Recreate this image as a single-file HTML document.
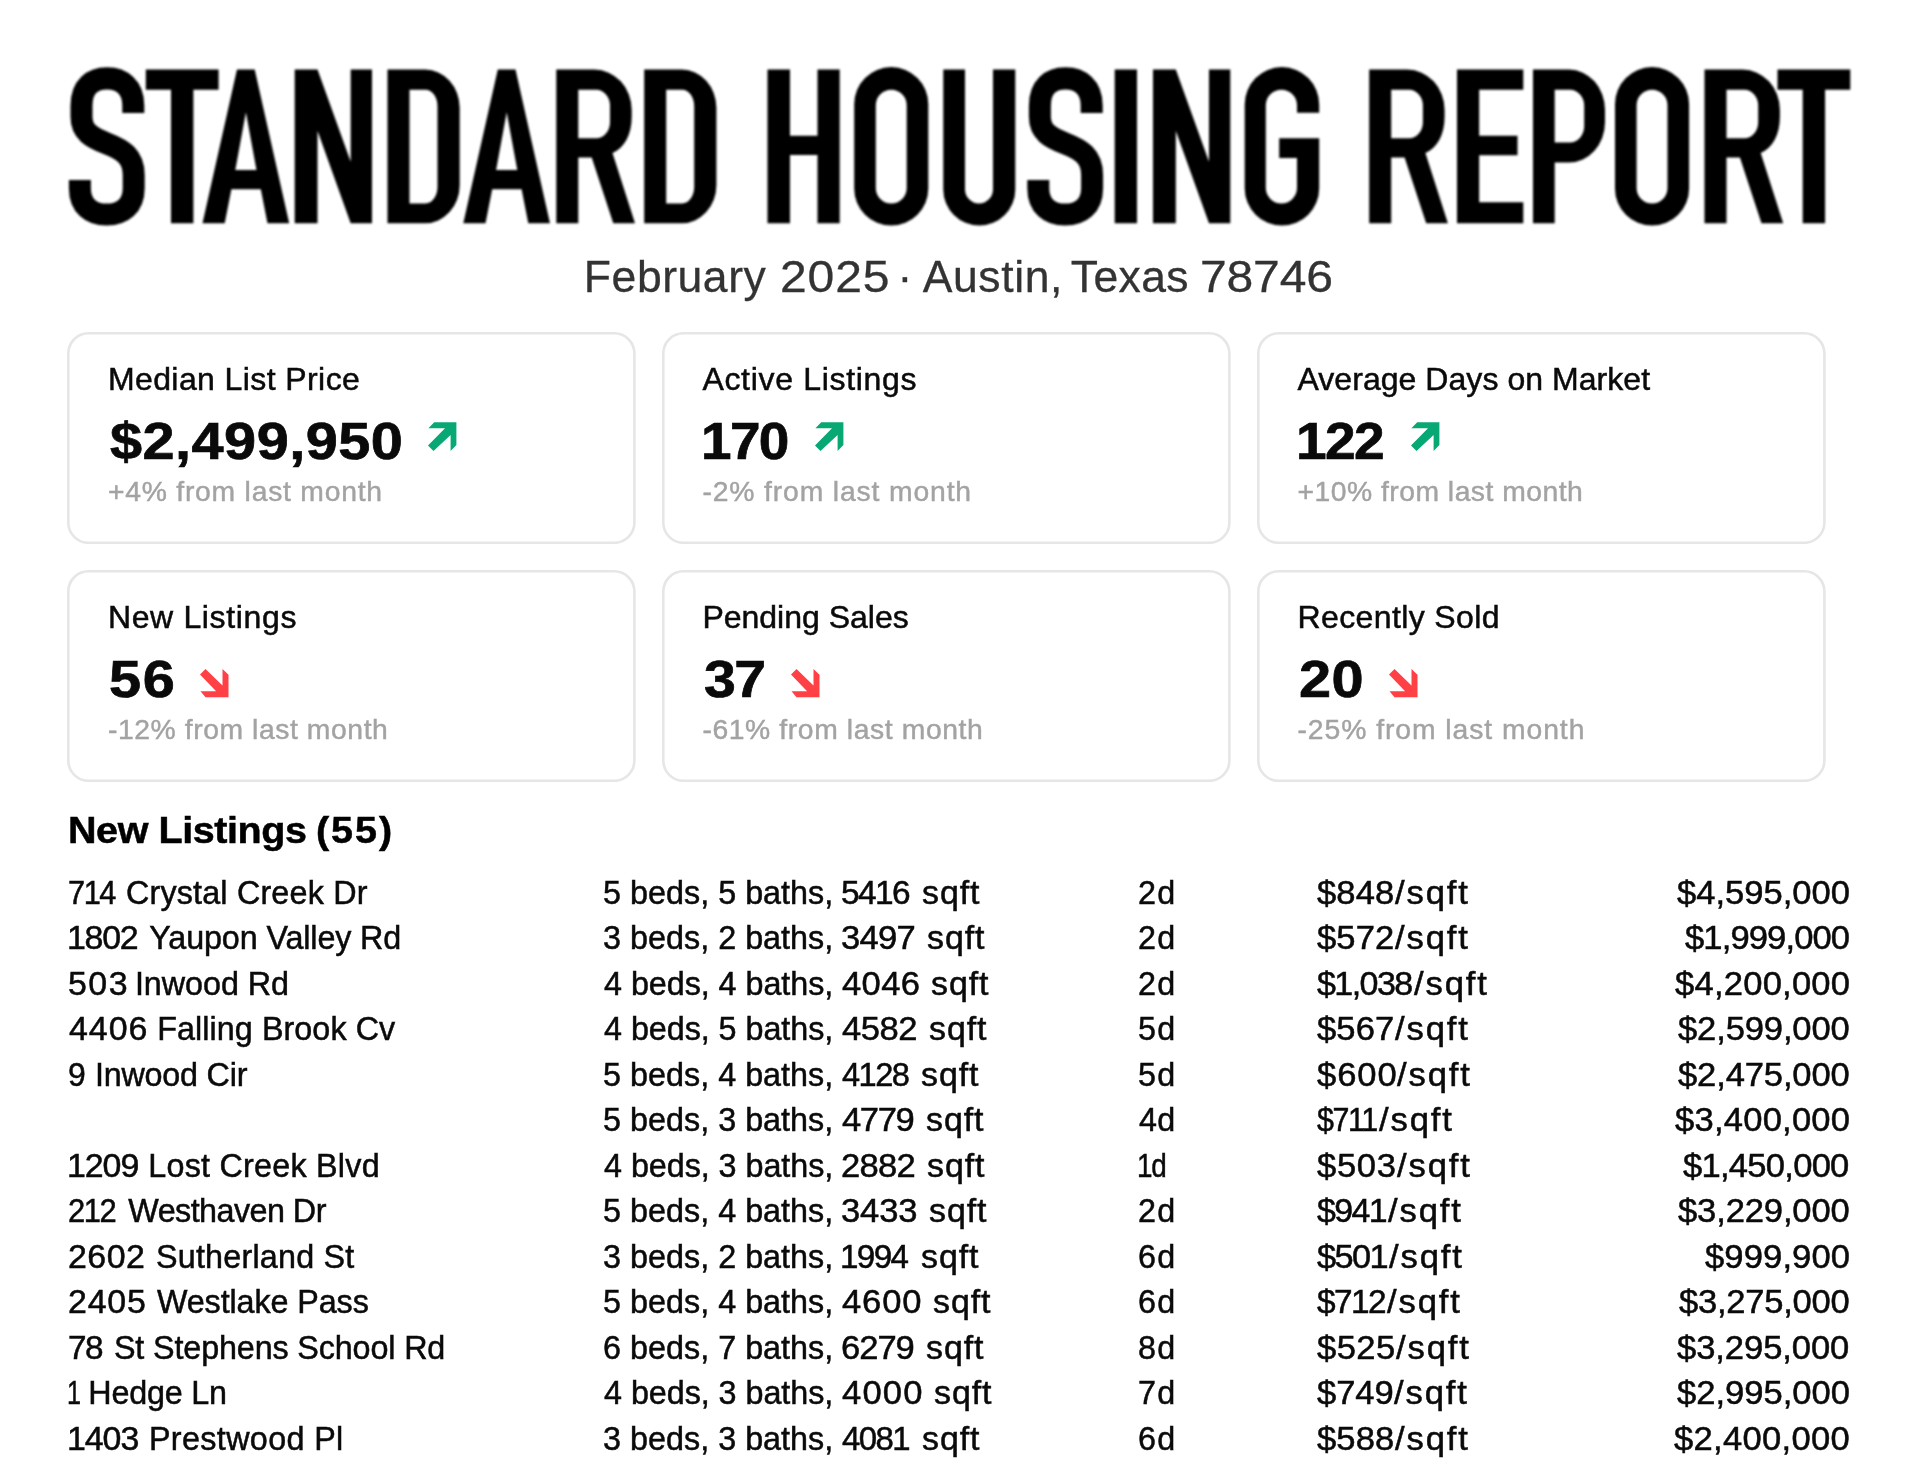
<!DOCTYPE html>
<html lang="en"><head><meta charset="utf-8"><title>Standard Housing Report</title>
<style>
html,body{margin:0;padding:0;background:#fff;}
body{width:1920px;height:1465px;position:relative;overflow:hidden;font-family:"Liberation Sans",sans-serif;color:#0a0a0a;}
#page{position:absolute;left:0;top:0;width:1920px;height:1465px;will-change:transform;}
.t{position:absolute;white-space:pre;margin:0;transform-origin:0 0;}
.title{position:absolute;left:0;top:0;}
.ar{position:absolute;}
</style></head><body><div id="page">

<svg class="title" width="1920" height="240" viewBox="0 0 1920 240" aria-label="STANDARD HOUSING REPORT" role="img"><title>STANDARD HOUSING REPORT</title><defs>
<g id="gT"><path d="M0,0H72.8V20H47.6V153H25.2V20H0Z"/></g>
<g id="gA"><path fill-rule="evenodd" d="M0,153L34.5,0H52.2L86.7,153H65L58.3,119.2H28.9L22.2,153Z M43.4,42.5L54,100H32.8Z"/></g>
<g id="gN"><path d="M0,0H22.8L56,91.7V0H77.3V153H56L22.8,60.8V153H0Z"/></g>
<g id="gD"><path fill-rule="evenodd" d="M0,0H37.5A34.7,38 0 0 1 72.2,38V115A34.7,38 0 0 1 37.5,153H0Z M22,20H38A12,16.7 0 0 1 50,36.7V116.6A12,16.7 0 0 1 38,133.3H22Z"/></g>
<g id="gR"><path fill-rule="evenodd" d="M0,0H38A37.4,40 0 0 1 75.4,40V47C75.4,65 68,78 56.2,83L78.7,153H57L35.4,87.5H22V153H0Z M22,20H40A13.7,16 0 0 1 53.7,36V52.3A13.7,16 0 0 1 40,68.3H22Z"/></g>
<g id="gH"><path d="M0,0H22.5V65.8H50V0H72.2V153H50V85H22.5V153H0Z"/></g>
<g id="gO"><path fill-rule="evenodd" d="M0,34.55A37.05,37.05 0 0 1 74.1,34.55V118.25A37.05,37.05 0 0 1 0,118.25Z M21.6,35.45A15.45,15.45 0 0 1 52.5,35.45V117.85A15.45,15.45 0 0 1 21.6,117.85Z"/></g>
<g id="gU"><path d="M0,0H21.7V119A14,14.3 0 0 0 49.7,119V0H72V119.3A36,36 0 0 1 0,119.3Z"/></g>
<g id="gS"><path fill="none" stroke="#000" stroke-width="22" d="M65,43.3V36C65,17 53,8.75 38.8,8.75C24,8.75 13.2,17 13.2,36V47C13.2,62 23,67.5 38.5,73.5C54,79.5 65.4,86 65.4,105V118C65.4,136 54,144.3 38.3,144.3C23,144.3 11.6,136 11.6,118V110"/></g>
<g id="gG"><path d="M74.5,43V34.75A37.25,37.25 0 0 0 0,34.75V118.05A37.25,37.25 0 0 0 74.5,118.05V68.3H34.5V88H52.3V117.7A15.6,15.6 0 0 1 21.1,117.7V35.6A15.6,15.6 0 0 1 52.3,35.6V43Z"/></g>
<g id="gE"><path d="M0,0H66.3V20H22.2V65.8H60.5V85.3H22.2V132H66.3V153H0Z"/></g>
<g id="gP"><path fill-rule="evenodd" d="M0,0H36A36,40 0 0 1 72,40V52.5A36,40 0 0 1 36,92.5H21.7V153H0Z M21.7,20H37A14.2,16 0 0 1 51.2,36V56.5A14.2,16 0 0 1 37,72.5H21.7Z"/></g>
<g id="gI"><path d="M0,0H22.3V153H0Z"/></g>
<filter id="tb" x="-1%" y="-5%" width="102%" height="110%"><feGaussianBlur stdDeviation="0.8"/></filter></defs><g fill="#000" filter="url(#tb)">
<use href="#gS" transform="translate(68.3,69.6) scale(1,1.0046)"/>
<use href="#gT" transform="translate(145.8,69.6) scale(1,1.0046)"/>
<use href="#gA" transform="translate(202.5,69.6) scale(1,1.0046)"/>
<use href="#gN" transform="translate(294.7,69.6) scale(1,1.0046)"/>
<use href="#gD" transform="translate(387.5,69.6) scale(1,1.0046)"/>
<use href="#gA" transform="translate(463.3,69.6) scale(1,1.0046)"/>
<use href="#gR" transform="translate(556.3,69.6) scale(1,1.0046)"/>
<use href="#gD" transform="translate(644.2,69.6) scale(1,1.0046)"/>
<use href="#gH" transform="translate(767.5,69.6) scale(1,1.0046)"/>
<use href="#gO" transform="translate(854.2,69.6) scale(1,1.0046)"/>
<use href="#gU" transform="translate(943.3,69.6) scale(1,1.0046)"/>
<use href="#gS" transform="translate(1026.7,69.6) scale(1,1.0046)"/>
<use href="#gI" transform="translate(1114.7,69.6) scale(1,1.0046)"/>
<use href="#gN" transform="translate(1153.0,69.6) scale(1,1.0046)"/>
<use href="#gG" transform="translate(1244.7,69.6) scale(1,1.0046)"/>
<use href="#gR" transform="translate(1369.2,69.6) scale(1,1.0046)"/>
<use href="#gE" transform="translate(1457.0,69.6) scale(1,1.0046)"/>
<use href="#gP" transform="translate(1533.0,69.6) scale(1,1.0046)"/>
<use href="#gO" transform="translate(1615.0,69.6) scale(1,1.0046)"/>
<use href="#gR" transform="translate(1704.5,69.6) scale(1,1.0046)"/>
<use href="#gT" transform="translate(1777.5,69.6) scale(1,1.0046)"/>
</g></svg>
<svg class="ar" style="left:67.4px;top:331.6px" width="568.7" height="212.1"><rect x="1.3" y="1.3" width="566.1" height="209.5" rx="20.2" ry="20.2" fill="#fff" stroke="#e6e6e6" stroke-width="2.6"/></svg>
<svg class="ar" style="left:661.9px;top:331.6px" width="568.7" height="212.1"><rect x="1.3" y="1.3" width="566.1" height="209.5" rx="20.2" ry="20.2" fill="#fff" stroke="#e6e6e6" stroke-width="2.6"/></svg>
<svg class="ar" style="left:1257.0px;top:331.6px" width="568.7" height="212.1"><rect x="1.3" y="1.3" width="566.1" height="209.5" rx="20.2" ry="20.2" fill="#fff" stroke="#e6e6e6" stroke-width="2.6"/></svg>
<svg class="ar" style="left:67.4px;top:570.0px" width="568.7" height="212.1"><rect x="1.3" y="1.3" width="566.1" height="209.5" rx="20.2" ry="20.2" fill="#fff" stroke="#e6e6e6" stroke-width="2.6"/></svg>
<svg class="ar" style="left:661.9px;top:570.0px" width="568.7" height="212.1"><rect x="1.3" y="1.3" width="566.1" height="209.5" rx="20.2" ry="20.2" fill="#fff" stroke="#e6e6e6" stroke-width="2.6"/></svg>
<svg class="ar" style="left:1257.0px;top:570.0px" width="568.7" height="212.1"><rect x="1.3" y="1.3" width="566.1" height="209.5" rx="20.2" ry="20.2" fill="#fff" stroke="#e6e6e6" stroke-width="2.6"/></svg>
<svg class="ar" style="left:428.0px;top:422.0px" width="30" height="30" viewBox="0 0 30 30"><path fill="#08a875" d="M6.2,0.2H28.4V23L22.6,28.9V13.1L5.5,29.1L0,23.5L17,6.3H0.4Z"/></svg>
<svg class="ar" style="left:815.0px;top:422.0px" width="30" height="30" viewBox="0 0 30 30"><path fill="#08a875" d="M6.2,0.2H28.4V23L22.6,28.9V13.1L5.5,29.1L0,23.5L17,6.3H0.4Z"/></svg>
<svg class="ar" style="left:1410.7px;top:422.0px" width="30" height="30" viewBox="0 0 30 30"><path fill="#08a875" d="M6.2,0.2H28.4V23L22.6,28.9V13.1L5.5,29.1L0,23.5L17,6.3H0.4Z"/></svg>
<svg class="ar" style="left:200.4px;top:668.9px" width="30" height="30" viewBox="0 0 30 30"><path fill="#ff4044" d="M5.5,0L22.5,16.5V0L28.5,5.8V28.2H5.5L0.5,22.3H16.1L0,5.5Z"/></svg>
<svg class="ar" style="left:790.5px;top:668.9px" width="30" height="30" viewBox="0 0 30 30"><path fill="#ff4044" d="M5.5,0L22.5,16.5V0L28.5,5.8V28.2H5.5L0.5,22.3H16.1L0,5.5Z"/></svg>
<svg class="ar" style="left:1389.2px;top:668.9px" width="30" height="30" viewBox="0 0 30 30"><path fill="#ff4044" d="M5.5,0L22.5,16.5V0L28.5,5.8V28.2H5.5L0.5,22.3H16.1L0,5.5Z"/></svg>
<div class="t" style="left:583.85px;top:252px;font-size:44.50px;line-height:49px;letter-spacing:0.555px;color:#333;-webkit-text-stroke:0.30px;">February</div>
<div class="t" style="left:779.69px;top:252px;font-size:44.50px;line-height:49px;letter-spacing:0.813px;color:#333;transform:scaleX(1.080);-webkit-text-stroke:0.30px;">2025</div>
<div class="t" style="left:897.45px;top:252px;font-size:44.50px;line-height:49px;letter-spacing:0.000px;color:#333;-webkit-text-stroke:0.30px;">·</div>
<div class="t" style="left:922.65px;top:252px;font-size:44.50px;line-height:49px;letter-spacing:0.620px;color:#333;-webkit-text-stroke:0.30px;">Austin,</div>
<div class="t" style="left:1070.85px;top:252px;font-size:44.50px;line-height:49px;letter-spacing:0.376px;color:#333;-webkit-text-stroke:0.30px;">Texas</div>
<div class="t" style="left:1200.49px;top:252px;font-size:44.50px;line-height:49px;letter-spacing:-0.161px;color:#333;transform:scaleX(1.080);-webkit-text-stroke:0.30px;">78746</div>
<div class="t" style="left:107.90px;top:361px;font-size:32.00px;line-height:36px;letter-spacing:0.407px;-webkit-text-stroke:0.50px;">Median List Price</div>
<div class="t" style="left:110.35px;top:412px;font-size:51.50px;line-height:58px;letter-spacing:0.412px;font-weight:700;transform:scaleX(1.120);-webkit-text-stroke:0.70px;">$2,499,950</div>
<div class="t" style="left:107.90px;top:475px;font-size:28.30px;line-height:32px;letter-spacing:0.774px;color:#a3a3a3;-webkit-text-stroke:0.45px;">+4% from last month</div>
<div class="t" style="left:702.40px;top:361px;font-size:32.00px;line-height:36px;letter-spacing:0.680px;-webkit-text-stroke:0.50px;">Active Listings</div>
<div class="t" style="left:700.90px;top:412px;font-size:51.50px;line-height:58px;letter-spacing:-1.500px;font-weight:700;transform:scaleX(1.066);-webkit-text-stroke:0.70px;">170</div>
<div class="t" style="left:702.40px;top:475px;font-size:28.30px;line-height:32px;letter-spacing:0.863px;color:#a3a3a3;-webkit-text-stroke:0.45px;">-2% from last month</div>
<div class="t" style="left:1297.50px;top:361px;font-size:32.00px;line-height:36px;letter-spacing:0.046px;-webkit-text-stroke:0.50px;">Average Days on Market</div>
<div class="t" style="left:1295.64px;top:412px;font-size:51.50px;line-height:58px;letter-spacing:-1.500px;font-weight:700;transform:scaleX(1.069);-webkit-text-stroke:0.70px;">122</div>
<div class="t" style="left:1297.50px;top:475px;font-size:28.30px;line-height:32px;letter-spacing:0.489px;color:#a3a3a3;-webkit-text-stroke:0.45px;">+10% from last month</div>
<div class="t" style="left:107.90px;top:599px;font-size:32.00px;line-height:36px;letter-spacing:0.649px;-webkit-text-stroke:0.50px;">New Listings</div>
<div class="t" style="left:109.03px;top:650px;font-size:51.50px;line-height:58px;letter-spacing:1.430px;font-weight:700;transform:scaleX(1.120);-webkit-text-stroke:0.70px;">56</div>
<div class="t" style="left:107.90px;top:713px;font-size:28.30px;line-height:32px;letter-spacing:0.579px;color:#a3a3a3;-webkit-text-stroke:0.45px;">-12% from last month</div>
<div class="t" style="left:702.40px;top:599px;font-size:32.00px;line-height:36px;letter-spacing:-0.002px;-webkit-text-stroke:0.50px;">Pending Sales</div>
<div class="t" style="left:703.54px;top:650px;font-size:51.50px;line-height:58px;letter-spacing:-1.500px;font-weight:700;transform:scaleX(1.112);-webkit-text-stroke:0.70px;">37</div>
<div class="t" style="left:702.40px;top:713px;font-size:28.30px;line-height:32px;letter-spacing:0.605px;color:#a3a3a3;-webkit-text-stroke:0.45px;">-61% from last month</div>
<div class="t" style="left:1297.50px;top:599px;font-size:32.00px;line-height:36px;letter-spacing:0.384px;-webkit-text-stroke:0.50px;">Recently Sold</div>
<div class="t" style="left:1299.03px;top:650px;font-size:51.50px;line-height:58px;letter-spacing:0.447px;font-weight:700;transform:scaleX(1.120);-webkit-text-stroke:0.70px;">20</div>
<div class="t" style="left:1297.50px;top:713px;font-size:28.30px;line-height:32px;letter-spacing:0.947px;color:#a3a3a3;-webkit-text-stroke:0.45px;">-25% from last month</div>
<div class="t" style="left:67.83px;top:809px;font-size:37.30px;line-height:42px;letter-spacing:-0.422px;font-weight:700;color:#000;transform:scaleX(1.060);-webkit-text-stroke:0.50px;">New Listings</div>
<div class="t" style="left:316.19px;top:809px;font-size:37.30px;line-height:42px;letter-spacing:1.843px;font-weight:700;color:#000;transform:scaleX(1.060);-webkit-text-stroke:0.50px;">(55)</div>
<div class="t" style="left:67.70px;top:875px;font-size:32.30px;line-height:36px;letter-spacing:-1.500px;transform:scaleX(0.951);-webkit-text-stroke:0.50px;">714</div>
<div class="t" style="left:125.95px;top:875px;font-size:32.30px;line-height:36px;letter-spacing:0.186px;-webkit-text-stroke:0.50px;">Crystal Creek Dr</div>
<div class="t" style="left:603.05px;top:875px;font-size:32.30px;line-height:36px;letter-spacing:0.023px;-webkit-text-stroke:0.50px;">5 beds, 5 baths,</div>
<div class="t" style="left:841.41px;top:875px;font-size:32.30px;line-height:36px;letter-spacing:-1.500px;transform:scaleX(1.035);-webkit-text-stroke:0.50px;">5416</div>
<div class="t" style="left:921.85px;top:875px;font-size:32.30px;line-height:36px;letter-spacing:0.893px;transform:scaleX(1.050);-webkit-text-stroke:0.50px;">sqft</div>
<div class="t" style="left:1138.05px;top:875px;font-size:32.30px;line-height:36px;letter-spacing:1.338px;-webkit-text-stroke:0.50px;">2d</div>
<div class="t" style="left:1316.55px;top:875px;font-size:32.30px;line-height:36px;letter-spacing:0.110px;transform:scaleX(1.070);-webkit-text-stroke:0.50px;">$848</div>
<div class="t" style="left:1395.05px;top:875px;font-size:32.30px;line-height:36px;letter-spacing:1.769px;transform:scaleX(1.070);-webkit-text-stroke:0.50px;">/sqft</div>
<div class="t" style="left:1676.75px;top:875px;font-size:32.30px;line-height:36px;letter-spacing:0.008px;transform:scaleX(1.070);-webkit-text-stroke:0.50px;">$4,595,000</div>
<div class="t" style="left:66.55px;top:920px;font-size:32.30px;line-height:36px;letter-spacing:-1.227px;transform:scaleX(1.050);-webkit-text-stroke:0.50px;">1802</div>
<div class="t" style="left:149.28px;top:920px;font-size:32.30px;line-height:36px;letter-spacing:-0.115px;-webkit-text-stroke:0.50px;">Yaupon Valley Rd</div>
<div class="t" style="left:603.05px;top:920px;font-size:32.30px;line-height:36px;letter-spacing:0.023px;-webkit-text-stroke:0.50px;">3 beds, 2 baths,</div>
<div class="t" style="left:841.38px;top:920px;font-size:32.30px;line-height:36px;letter-spacing:-0.647px;transform:scaleX(1.070);-webkit-text-stroke:0.50px;">3497</div>
<div class="t" style="left:926.85px;top:920px;font-size:32.30px;line-height:36px;letter-spacing:0.893px;transform:scaleX(1.050);-webkit-text-stroke:0.50px;">sqft</div>
<div class="t" style="left:1138.05px;top:920px;font-size:32.30px;line-height:36px;letter-spacing:1.338px;-webkit-text-stroke:0.50px;">2d</div>
<div class="t" style="left:1316.55px;top:920px;font-size:32.30px;line-height:36px;letter-spacing:0.110px;transform:scaleX(1.070);-webkit-text-stroke:0.50px;">$572</div>
<div class="t" style="left:1395.05px;top:920px;font-size:32.30px;line-height:36px;letter-spacing:1.769px;transform:scaleX(1.070);-webkit-text-stroke:0.50px;">/sqft</div>
<div class="t" style="left:1684.75px;top:920px;font-size:32.30px;line-height:36px;letter-spacing:-0.823px;transform:scaleX(1.070);-webkit-text-stroke:0.50px;">$1,999,000</div>
<div class="t" style="left:67.60px;top:966px;font-size:32.30px;line-height:36px;letter-spacing:1.403px;transform:scaleX(1.050);-webkit-text-stroke:0.50px;">503</div>
<div class="t" style="left:134.95px;top:966px;font-size:32.30px;line-height:36px;letter-spacing:-0.043px;-webkit-text-stroke:0.50px;">Inwood Rd</div>
<div class="t" style="left:604.05px;top:966px;font-size:32.30px;line-height:36px;letter-spacing:-0.044px;-webkit-text-stroke:0.50px;">4 beds, 4 baths,</div>
<div class="t" style="left:842.45px;top:966px;font-size:32.30px;line-height:36px;letter-spacing:0.359px;transform:scaleX(1.070);-webkit-text-stroke:0.50px;">4046</div>
<div class="t" style="left:931.15px;top:966px;font-size:32.30px;line-height:36px;letter-spacing:0.893px;transform:scaleX(1.050);-webkit-text-stroke:0.50px;">sqft</div>
<div class="t" style="left:1138.05px;top:966px;font-size:32.30px;line-height:36px;letter-spacing:1.338px;-webkit-text-stroke:0.50px;">2d</div>
<div class="t" style="left:1316.55px;top:966px;font-size:32.30px;line-height:36px;letter-spacing:-1.500px;transform:scaleX(1.054);-webkit-text-stroke:0.50px;">$1,038</div>
<div class="t" style="left:1414.05px;top:966px;font-size:32.30px;line-height:36px;letter-spacing:1.769px;transform:scaleX(1.070);-webkit-text-stroke:0.50px;">/sqft</div>
<div class="t" style="left:1674.75px;top:966px;font-size:32.30px;line-height:36px;letter-spacing:0.215px;transform:scaleX(1.070);-webkit-text-stroke:0.50px;">$4,200,000</div>
<div class="t" style="left:68.65px;top:1011px;font-size:32.30px;line-height:36px;letter-spacing:0.964px;transform:scaleX(1.050);-webkit-text-stroke:0.50px;">4406</div>
<div class="t" style="left:157.28px;top:1011px;font-size:32.30px;line-height:36px;letter-spacing:0.066px;-webkit-text-stroke:0.50px;">Falling Brook Cv</div>
<div class="t" style="left:604.05px;top:1011px;font-size:32.30px;line-height:36px;letter-spacing:-0.044px;-webkit-text-stroke:0.50px;">4 beds, 5 baths,</div>
<div class="t" style="left:842.45px;top:1011px;font-size:32.30px;line-height:36px;letter-spacing:-0.451px;transform:scaleX(1.070);-webkit-text-stroke:0.50px;">4582</div>
<div class="t" style="left:928.55px;top:1011px;font-size:32.30px;line-height:36px;letter-spacing:0.893px;transform:scaleX(1.050);-webkit-text-stroke:0.50px;">sqft</div>
<div class="t" style="left:1138.05px;top:1011px;font-size:32.30px;line-height:36px;letter-spacing:1.338px;-webkit-text-stroke:0.50px;">5d</div>
<div class="t" style="left:1316.55px;top:1011px;font-size:32.30px;line-height:36px;letter-spacing:0.110px;transform:scaleX(1.070);-webkit-text-stroke:0.50px;">$567</div>
<div class="t" style="left:1395.05px;top:1011px;font-size:32.30px;line-height:36px;letter-spacing:1.769px;transform:scaleX(1.070);-webkit-text-stroke:0.50px;">/sqft</div>
<div class="t" style="left:1678.05px;top:1011px;font-size:32.30px;line-height:36px;letter-spacing:-0.127px;transform:scaleX(1.070);-webkit-text-stroke:0.50px;">$2,599,000</div>
<div class="t" style="left:67.66px;top:1057px;font-size:32.30px;line-height:36px;letter-spacing:0.000px;transform:scaleX(0.987);-webkit-text-stroke:0.50px;">9</div>
<div class="t" style="left:94.95px;top:1057px;font-size:32.30px;line-height:36px;letter-spacing:-0.213px;-webkit-text-stroke:0.50px;">Inwood Cir</div>
<div class="t" style="left:603.05px;top:1057px;font-size:32.30px;line-height:36px;letter-spacing:0.023px;-webkit-text-stroke:0.50px;">5 beds, 4 baths,</div>
<div class="t" style="left:842.45px;top:1057px;font-size:32.30px;line-height:36px;letter-spacing:-1.500px;transform:scaleX(1.009);-webkit-text-stroke:0.50px;">4128</div>
<div class="t" style="left:921.15px;top:1057px;font-size:32.30px;line-height:36px;letter-spacing:0.893px;transform:scaleX(1.050);-webkit-text-stroke:0.50px;">sqft</div>
<div class="t" style="left:1138.05px;top:1057px;font-size:32.30px;line-height:36px;letter-spacing:1.338px;-webkit-text-stroke:0.50px;">5d</div>
<div class="t" style="left:1316.55px;top:1057px;font-size:32.30px;line-height:36px;letter-spacing:0.857px;transform:scaleX(1.070);-webkit-text-stroke:0.50px;">$600</div>
<div class="t" style="left:1397.45px;top:1057px;font-size:32.30px;line-height:36px;letter-spacing:1.769px;transform:scaleX(1.070);-webkit-text-stroke:0.50px;">/sqft</div>
<div class="t" style="left:1678.05px;top:1057px;font-size:32.30px;line-height:36px;letter-spacing:-0.127px;transform:scaleX(1.070);-webkit-text-stroke:0.50px;">$2,475,000</div>
<div class="t" style="left:603.05px;top:1102px;font-size:32.30px;line-height:36px;letter-spacing:0.023px;-webkit-text-stroke:0.50px;">5 beds, 3 baths,</div>
<div class="t" style="left:842.45px;top:1102px;font-size:32.30px;line-height:36px;letter-spacing:-1.292px;transform:scaleX(1.070);-webkit-text-stroke:0.50px;">4779</div>
<div class="t" style="left:925.85px;top:1102px;font-size:32.30px;line-height:36px;letter-spacing:0.893px;transform:scaleX(1.050);-webkit-text-stroke:0.50px;">sqft</div>
<div class="t" style="left:1139.05px;top:1102px;font-size:32.30px;line-height:36px;letter-spacing:0.338px;-webkit-text-stroke:0.50px;">4d</div>
<div class="t" style="left:1316.55px;top:1102px;font-size:32.30px;line-height:36px;letter-spacing:-1.500px;transform:scaleX(0.941);-webkit-text-stroke:0.50px;">$711</div>
<div class="t" style="left:1379.05px;top:1102px;font-size:32.30px;line-height:36px;letter-spacing:1.769px;transform:scaleX(1.070);-webkit-text-stroke:0.50px;">/sqft</div>
<div class="t" style="left:1674.75px;top:1102px;font-size:32.30px;line-height:36px;letter-spacing:0.215px;transform:scaleX(1.070);-webkit-text-stroke:0.50px;">$3,400,000</div>
<div class="t" style="left:66.55px;top:1148px;font-size:32.30px;line-height:36px;letter-spacing:-1.015px;transform:scaleX(1.050);-webkit-text-stroke:0.50px;">1209</div>
<div class="t" style="left:148.28px;top:1148px;font-size:32.30px;line-height:36px;letter-spacing:0.240px;-webkit-text-stroke:0.50px;">Lost Creek Blvd</div>
<div class="t" style="left:604.05px;top:1148px;font-size:32.30px;line-height:36px;letter-spacing:-0.044px;-webkit-text-stroke:0.50px;">4 beds, 3 baths,</div>
<div class="t" style="left:841.38px;top:1148px;font-size:32.30px;line-height:36px;letter-spacing:-0.647px;transform:scaleX(1.070);-webkit-text-stroke:0.50px;">2882</div>
<div class="t" style="left:926.85px;top:1148px;font-size:32.30px;line-height:36px;letter-spacing:0.893px;transform:scaleX(1.050);-webkit-text-stroke:0.50px;">sqft</div>
<div class="t" style="left:1137.32px;top:1148px;font-size:32.30px;line-height:36px;letter-spacing:-1.500px;transform:scaleX(0.863);-webkit-text-stroke:0.50px;">1d</div>
<div class="t" style="left:1316.55px;top:1148px;font-size:32.30px;line-height:36px;letter-spacing:0.639px;transform:scaleX(1.070);-webkit-text-stroke:0.50px;">$503</div>
<div class="t" style="left:1396.75px;top:1148px;font-size:32.30px;line-height:36px;letter-spacing:1.769px;transform:scaleX(1.070);-webkit-text-stroke:0.50px;">/sqft</div>
<div class="t" style="left:1683.45px;top:1148px;font-size:32.30px;line-height:36px;letter-spacing:-0.688px;transform:scaleX(1.070);-webkit-text-stroke:0.50px;">$1,450,000</div>
<div class="t" style="left:67.69px;top:1193px;font-size:32.30px;line-height:36px;letter-spacing:-1.500px;transform:scaleX(0.957);-webkit-text-stroke:0.50px;">212</div>
<div class="t" style="left:128.28px;top:1193px;font-size:32.30px;line-height:36px;letter-spacing:-0.537px;-webkit-text-stroke:0.50px;">Westhaven Dr</div>
<div class="t" style="left:603.05px;top:1193px;font-size:32.30px;line-height:36px;letter-spacing:0.023px;-webkit-text-stroke:0.50px;">5 beds, 4 baths,</div>
<div class="t" style="left:841.38px;top:1193px;font-size:32.30px;line-height:36px;letter-spacing:-0.118px;transform:scaleX(1.070);-webkit-text-stroke:0.50px;">3433</div>
<div class="t" style="left:928.55px;top:1193px;font-size:32.30px;line-height:36px;letter-spacing:0.893px;transform:scaleX(1.050);-webkit-text-stroke:0.50px;">sqft</div>
<div class="t" style="left:1138.05px;top:1193px;font-size:32.30px;line-height:36px;letter-spacing:1.338px;-webkit-text-stroke:0.50px;">2d</div>
<div class="t" style="left:1316.55px;top:1193px;font-size:32.30px;line-height:36px;letter-spacing:-1.500px;transform:scaleX(1.048);-webkit-text-stroke:0.50px;">$941</div>
<div class="t" style="left:1388.45px;top:1193px;font-size:32.30px;line-height:36px;letter-spacing:1.769px;transform:scaleX(1.070);-webkit-text-stroke:0.50px;">/sqft</div>
<div class="t" style="left:1678.05px;top:1193px;font-size:32.30px;line-height:36px;letter-spacing:-0.127px;transform:scaleX(1.070);-webkit-text-stroke:0.50px;">$3,229,000</div>
<div class="t" style="left:67.60px;top:1239px;font-size:32.30px;line-height:36px;letter-spacing:0.451px;transform:scaleX(1.050);-webkit-text-stroke:0.50px;">2602</div>
<div class="t" style="left:155.95px;top:1239px;font-size:32.30px;line-height:36px;letter-spacing:0.222px;-webkit-text-stroke:0.50px;">Sutherland St</div>
<div class="t" style="left:603.05px;top:1239px;font-size:32.30px;line-height:36px;letter-spacing:0.023px;-webkit-text-stroke:0.50px;">3 beds, 2 baths,</div>
<div class="t" style="left:840.40px;top:1239px;font-size:32.30px;line-height:36px;letter-spacing:-1.500px;transform:scaleX(1.025);-webkit-text-stroke:0.50px;">1994</div>
<div class="t" style="left:921.15px;top:1239px;font-size:32.30px;line-height:36px;letter-spacing:0.893px;transform:scaleX(1.050);-webkit-text-stroke:0.50px;">sqft</div>
<div class="t" style="left:1138.05px;top:1239px;font-size:32.30px;line-height:36px;letter-spacing:1.338px;-webkit-text-stroke:0.50px;">6d</div>
<div class="t" style="left:1316.55px;top:1239px;font-size:32.30px;line-height:36px;letter-spacing:-1.500px;transform:scaleX(1.063);-webkit-text-stroke:0.50px;">$501</div>
<div class="t" style="left:1389.45px;top:1239px;font-size:32.30px;line-height:36px;letter-spacing:1.769px;transform:scaleX(1.070);-webkit-text-stroke:0.50px;">/sqft</div>
<div class="t" style="left:1704.75px;top:1239px;font-size:32.30px;line-height:36px;letter-spacing:0.119px;transform:scaleX(1.070);-webkit-text-stroke:0.50px;">$999,900</div>
<div class="t" style="left:67.60px;top:1284px;font-size:32.30px;line-height:36px;letter-spacing:0.768px;transform:scaleX(1.050);-webkit-text-stroke:0.50px;">2405</div>
<div class="t" style="left:156.95px;top:1284px;font-size:32.30px;line-height:36px;letter-spacing:-0.096px;-webkit-text-stroke:0.50px;">Westlake Pass</div>
<div class="t" style="left:603.05px;top:1284px;font-size:32.30px;line-height:36px;letter-spacing:0.023px;-webkit-text-stroke:0.50px;">5 beds, 4 baths,</div>
<div class="t" style="left:842.45px;top:1284px;font-size:32.30px;line-height:36px;letter-spacing:0.795px;transform:scaleX(1.070);-webkit-text-stroke:0.50px;">4600</div>
<div class="t" style="left:932.55px;top:1284px;font-size:32.30px;line-height:36px;letter-spacing:0.893px;transform:scaleX(1.050);-webkit-text-stroke:0.50px;">sqft</div>
<div class="t" style="left:1138.05px;top:1284px;font-size:32.30px;line-height:36px;letter-spacing:1.338px;-webkit-text-stroke:0.50px;">6d</div>
<div class="t" style="left:1316.55px;top:1284px;font-size:32.30px;line-height:36px;letter-spacing:-1.500px;transform:scaleX(1.033);-webkit-text-stroke:0.50px;">$712</div>
<div class="t" style="left:1387.45px;top:1284px;font-size:32.30px;line-height:36px;letter-spacing:1.769px;transform:scaleX(1.070);-webkit-text-stroke:0.50px;">/sqft</div>
<div class="t" style="left:1679.05px;top:1284px;font-size:32.30px;line-height:36px;letter-spacing:-0.231px;transform:scaleX(1.070);-webkit-text-stroke:0.50px;">$3,275,000</div>
<div class="t" style="left:67.62px;top:1330px;font-size:32.30px;line-height:36px;letter-spacing:-1.500px;transform:scaleX(1.031);-webkit-text-stroke:0.50px;">78</div>
<div class="t" style="left:113.95px;top:1330px;font-size:32.30px;line-height:36px;letter-spacing:-0.129px;-webkit-text-stroke:0.50px;">St Stephens School Rd</div>
<div class="t" style="left:603.05px;top:1330px;font-size:32.30px;line-height:36px;letter-spacing:0.023px;-webkit-text-stroke:0.50px;">6 beds, 7 baths,</div>
<div class="t" style="left:841.38px;top:1330px;font-size:32.30px;line-height:36px;letter-spacing:-0.959px;transform:scaleX(1.070);-webkit-text-stroke:0.50px;">6279</div>
<div class="t" style="left:925.85px;top:1330px;font-size:32.30px;line-height:36px;letter-spacing:0.893px;transform:scaleX(1.050);-webkit-text-stroke:0.50px;">sqft</div>
<div class="t" style="left:1138.05px;top:1330px;font-size:32.30px;line-height:36px;letter-spacing:1.338px;-webkit-text-stroke:0.50px;">8d</div>
<div class="t" style="left:1316.55px;top:1330px;font-size:32.30px;line-height:36px;letter-spacing:0.421px;transform:scaleX(1.070);-webkit-text-stroke:0.50px;">$525</div>
<div class="t" style="left:1396.05px;top:1330px;font-size:32.30px;line-height:36px;letter-spacing:1.769px;transform:scaleX(1.070);-webkit-text-stroke:0.50px;">/sqft</div>
<div class="t" style="left:1677.45px;top:1330px;font-size:32.30px;line-height:36px;letter-spacing:-0.065px;transform:scaleX(1.070);-webkit-text-stroke:0.50px;">$3,295,000</div>
<div class="t" style="left:67.09px;top:1375px;font-size:32.30px;line-height:36px;letter-spacing:0.000px;transform:scaleX(0.780);-webkit-text-stroke:0.50px;">1</div>
<div class="t" style="left:88.28px;top:1375px;font-size:32.30px;line-height:36px;letter-spacing:-0.191px;-webkit-text-stroke:0.50px;">Hedge Ln</div>
<div class="t" style="left:604.05px;top:1375px;font-size:32.30px;line-height:36px;letter-spacing:-0.044px;-webkit-text-stroke:0.50px;">4 beds, 3 baths,</div>
<div class="t" style="left:842.45px;top:1375px;font-size:32.30px;line-height:36px;letter-spacing:1.107px;transform:scaleX(1.070);-webkit-text-stroke:0.50px;">4000</div>
<div class="t" style="left:933.55px;top:1375px;font-size:32.30px;line-height:36px;letter-spacing:0.893px;transform:scaleX(1.050);-webkit-text-stroke:0.50px;">sqft</div>
<div class="t" style="left:1138.05px;top:1375px;font-size:32.30px;line-height:36px;letter-spacing:1.338px;-webkit-text-stroke:0.50px;">7d</div>
<div class="t" style="left:1316.55px;top:1375px;font-size:32.30px;line-height:36px;letter-spacing:-0.077px;transform:scaleX(1.070);-webkit-text-stroke:0.50px;">$749</div>
<div class="t" style="left:1394.45px;top:1375px;font-size:32.30px;line-height:36px;letter-spacing:1.769px;transform:scaleX(1.070);-webkit-text-stroke:0.50px;">/sqft</div>
<div class="t" style="left:1676.75px;top:1375px;font-size:32.30px;line-height:36px;letter-spacing:0.008px;transform:scaleX(1.070);-webkit-text-stroke:0.50px;">$2,995,000</div>
<div class="t" style="left:66.55px;top:1421px;font-size:32.30px;line-height:36px;letter-spacing:-1.015px;transform:scaleX(1.050);-webkit-text-stroke:0.50px;">1403</div>
<div class="t" style="left:148.95px;top:1421px;font-size:32.30px;line-height:36px;letter-spacing:0.363px;-webkit-text-stroke:0.50px;">Prestwood Pl</div>
<div class="t" style="left:603.05px;top:1421px;font-size:32.30px;line-height:36px;letter-spacing:0.023px;-webkit-text-stroke:0.50px;">3 beds, 3 baths,</div>
<div class="t" style="left:842.45px;top:1421px;font-size:32.30px;line-height:36px;letter-spacing:-1.500px;transform:scaleX(1.020);-webkit-text-stroke:0.50px;">4081</div>
<div class="t" style="left:921.85px;top:1421px;font-size:32.30px;line-height:36px;letter-spacing:0.893px;transform:scaleX(1.050);-webkit-text-stroke:0.50px;">sqft</div>
<div class="t" style="left:1138.05px;top:1421px;font-size:32.30px;line-height:36px;letter-spacing:1.338px;-webkit-text-stroke:0.50px;">6d</div>
<div class="t" style="left:1316.55px;top:1421px;font-size:32.30px;line-height:36px;letter-spacing:0.110px;transform:scaleX(1.070);-webkit-text-stroke:0.50px;">$588</div>
<div class="t" style="left:1395.05px;top:1421px;font-size:32.30px;line-height:36px;letter-spacing:1.769px;transform:scaleX(1.070);-webkit-text-stroke:0.50px;">/sqft</div>
<div class="t" style="left:1674.05px;top:1421px;font-size:32.30px;line-height:36px;letter-spacing:0.288px;transform:scaleX(1.070);-webkit-text-stroke:0.50px;">$2,400,000</div>
</div></body></html>
